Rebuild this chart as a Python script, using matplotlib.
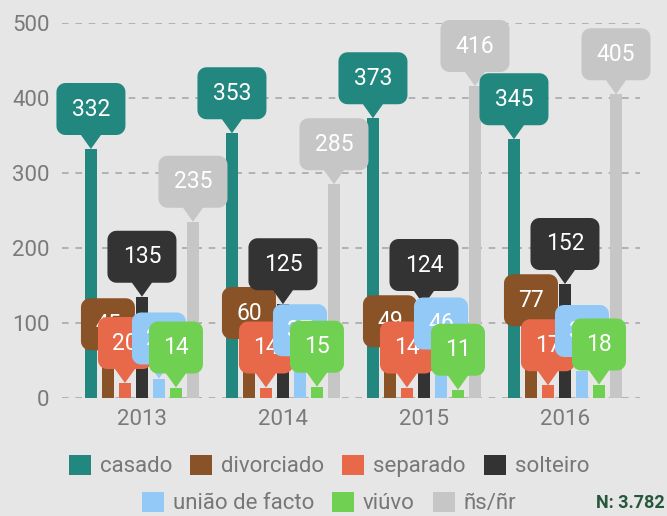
import matplotlib
matplotlib.use("Agg")
import matplotlib.pyplot as plt
import matplotlib.transforms as mtransforms
from matplotlib.path import Path
from matplotlib.patches import PathPatch, Patch
import numpy as np

plt.rcParams['font.family'] = ['Roboto', 'DejaVu Sans']

years = ['2013', '2014', '2015', '2016']
series = ['casado', 'divorciado', 'separado', 'solteiro', 'união de facto', 'viúvo', 'ñs/ñr']
colors = ['#22877f', '#8a5227', '#e8684a', '#333333', '#92c9f6', '#70d052', '#c6c6c6']

casado = [332, 353, 373, 345]
divorciado = [45, 60, 49, 77]
separado = [20, 14, 14, 17]
solteiro = [135, 125, 124, 152]
uniao = [26, 37, 46, 36]
viuvo = [14, 15, 11, 18]
nsnr = [235, 285, 416, 405]
values = [casado, divorciado, separado, solteiro, uniao, viuvo, nsnr]

BG = '#e6e6e6'
DPI = 100
fig = plt.figure(figsize=(6.67, 5.16), dpi=DPI, facecolor=BG)
W, H = 667, 516
left, right, bottom, top = 62, 640, 398, 23
ax = fig.add_axes([left / W, 1 - bottom / H, (right - left) / W, (bottom - top) / H])
ax.set_facecolor(BG)
ax.set_ylim(0, 500)
ax.set_xlim(-0.567, 3.532)
for s in ax.spines.values():
    s.set_visible(False)
ax.set_yticks([0, 100, 200, 300, 400, 500])
ax.set_xticks(range(4))
ax.set_xticklabels(years)
ax.tick_params(axis='both', length=0, labelsize=16, labelcolor='#7a7a7a')
ax.tick_params(axis='y', pad=9)
ax.tick_params(axis='x', pad=8)
ax.grid(axis='y', color='#a8a8a8', linestyle=(0, (4, 4)), linewidth=1.2)
ax.grid(axis='x', visible=False)
ax.set_axisbelow(True)

x = np.arange(4)
step = 0.1206
bw = 0.085
for j, (vals, c) in enumerate(zip(values, colors)):
    ax.bar(x + (j - 3) * step, vals, width=bw, color=c, zorder=2)


def callout_path(w=70, h=52, r=9, ph=14, pw=20):
    # pixel coordinates, origin at pointer tip
    verts = [(0, 0), (pw / 2, ph)]
    y0, y1 = ph, ph + h
    x0, x1 = -w / 2, w / 2
    def arc(cx, cy, a0, a1):
        return [(cx + r * np.cos(a), cy + r * np.sin(a)) for a in np.linspace(a0, a1, 8)]
    verts += arc(x1 - r, y0 + r, -np.pi / 2, 0)
    verts += arc(x1 - r, y1 - r, 0, np.pi / 2)
    verts += arc(x0 + r, y1 - r, np.pi / 2, np.pi)
    verts += arc(x0 + r, y0 + r, np.pi, 1.5 * np.pi)
    verts += [(-pw / 2, ph), (0, 0), (0, 0)]
    codes = [Path.MOVETO] + [Path.LINETO] * (len(verts) - 2) + [Path.CLOSEPOLY]
    return Path(verts, codes)

for g in range(4):
    for j, (vals, c) in enumerate(zip(values, colors)):
        xv = x[g] + (j - 3) * step
        yv = vals[g]
        label = str(yv)
        cp = callout_path(w=24 + 15 * len(label))
        z = 10 + g * 20 + j * 2
        tr = mtransforms.ScaledTranslation(xv, yv, ax.transData)
        patch = PathPatch(cp, transform=mtransforms.IdentityTransform() + tr,
                          facecolor=c, edgecolor='none', zorder=z, clip_on=False)
        ax.add_artist(patch)
        ax.annotate(label, xy=(xv, yv), xytext=(0, 14 + 26), textcoords='offset pixels',
                    ha='center', va='center', color='white', fontsize=16.5,
                    zorder=z + 1, annotation_clip=False)

handles = [Patch(facecolor=c, edgecolor='none') for c in colors]
leg1 = fig.legend(handles[:4], series[:4], loc='center', bbox_to_anchor=(329 / W, 1 - 466 / H),
                  ncol=4, frameon=False, fontsize=16, handlelength=1.0, handleheight=1.0,
                  handletextpad=0.4, columnspacing=0.8, labelcolor='#777777')
leg2 = fig.legend(handles[4:], series[4:], loc='center', bbox_to_anchor=(329 / W, 1 - 503 / H),
                  ncol=3, frameon=False, fontsize=16, handlelength=1.0, handleheight=1.0,
                  handletextpad=0.4, columnspacing=0.8, labelcolor='#777777')
fig.text(665 / W, 1 - 503 / H, 'N: 3.782', ha='right', va='center', fontsize=13,
         fontweight='bold', color='#27573b')

fig.savefig('out.png', dpi=DPI, facecolor=BG)
